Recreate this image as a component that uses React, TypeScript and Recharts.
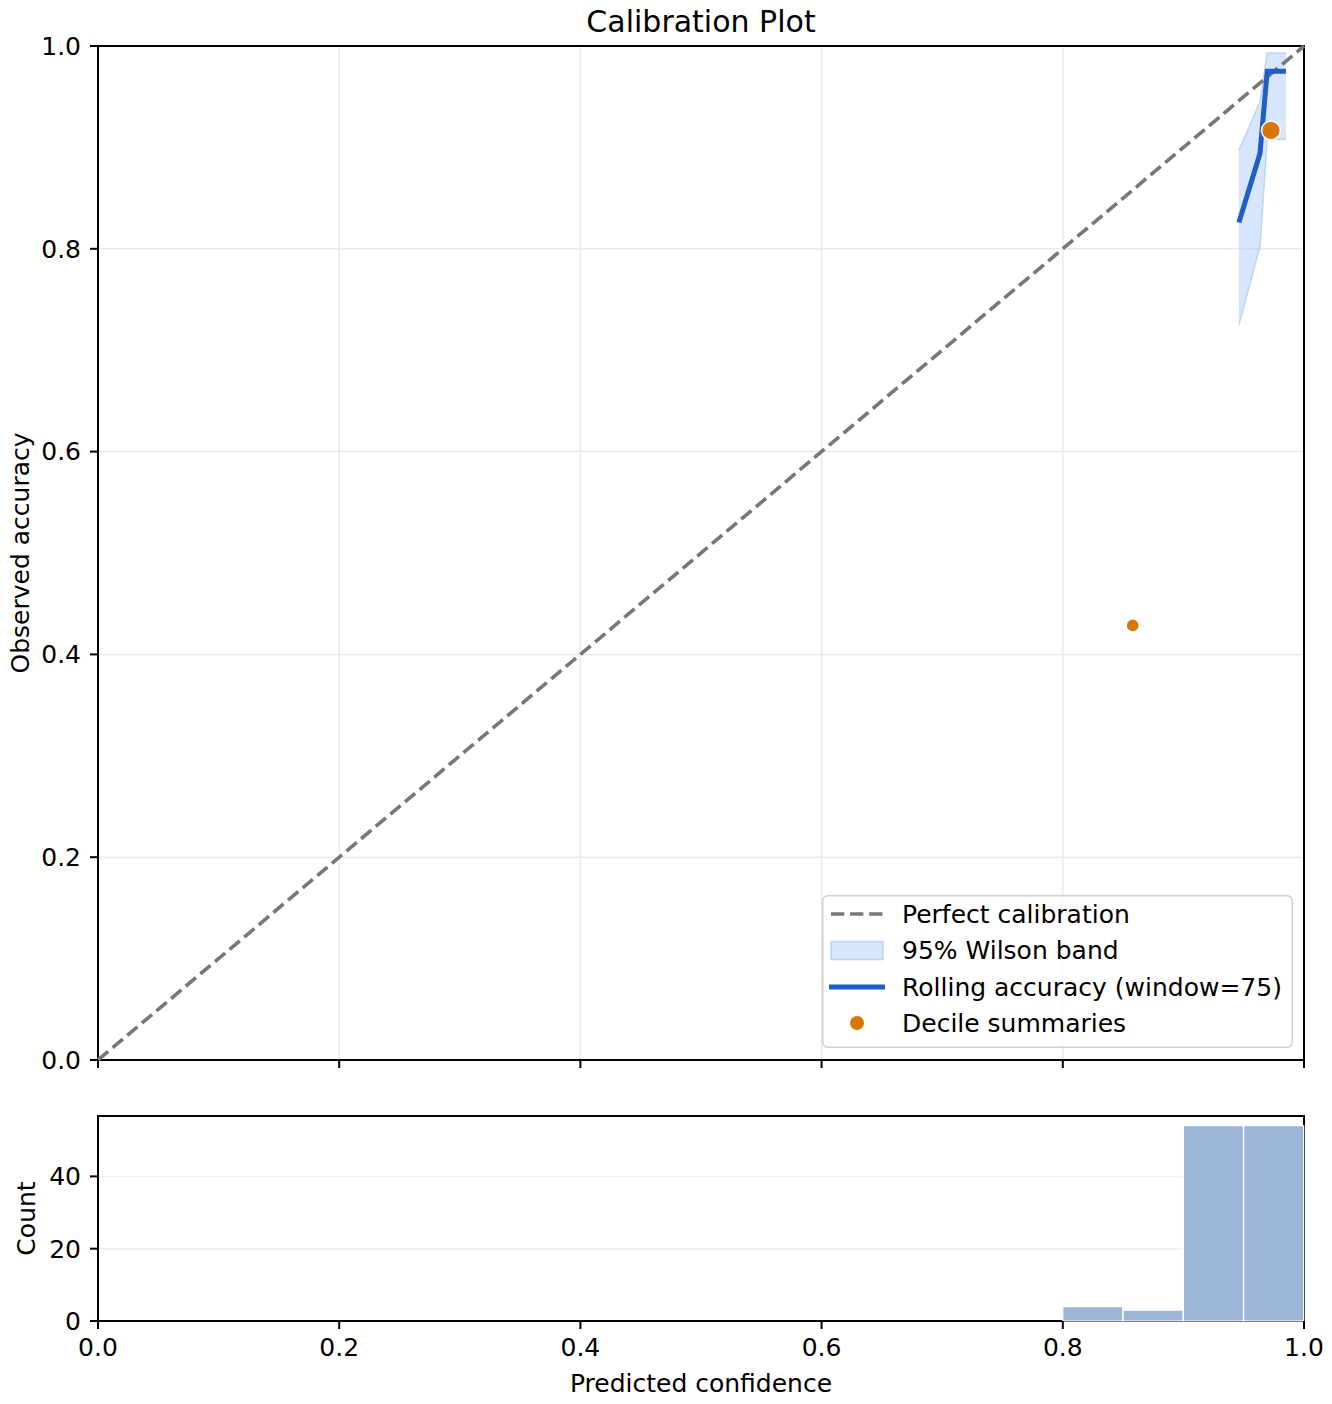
import React from 'react';
import {
  ComposedChart,
  Line,
  Area,
  Scatter,
  Bar,
  XAxis,
  YAxis,
  ZAxis,
  CartesianGrid,
  ReferenceArea,
  Legend,
} from 'recharts';

// ---------- data ----------
const perfectX = [0, 1];
const perfectY = [0, 1];

const rollX = [0.946, 0.9635, 0.9695, 0.985];
const rollAcc = [0.826, 0.894, 0.975, 0.975];
const bandLow = [0.725, 0.802, 0.908, 0.908];
const bandHigh = [0.897, 0.945, 0.993, 0.993];

const decileConf = [0.858, 0.9726];
const decileAcc = [0.4286, 0.9167];
const decileCount = [7, 108];

const binStarts = [0.8, 0.85, 0.9, 0.95];
const binCounts = [4, 3, 54, 54];
const BIN_WIDTH = 0.05;

const xTicks = [0, 0.2, 0.4, 0.6, 0.8, 1.0];
const yTicks = [0, 0.2, 0.4, 0.6, 0.8, 1.0];
const countTicks = [0, 20, 40];

const legendLabels = [
  'Perfect calibration',
  '95% Wilson band',
  'Rolling accuracy (window=75)',
  'Decile summaries',
];

// ---------- derived tables ----------
const perfectData = perfectX.map((x, i) => ({ x, y: perfectY[i] }));
const rollData = rollX.map((x, i) => ({ x, acc: rollAcc[i] }));
const bandData = rollX.map((x, i) => ({ x, band: [bandLow[i], bandHigh[i]] }));
const decileData = decileConf.map((x, i) => ({ x, acc: decileAcc[i], n: decileCount[i] }));
const histData = binStarts.map((s, i) => ({ x: s + BIN_WIDTH / 2, count: binCounts[i] }));
const countMax = Math.max(...binCounts) * 1.05;

// ---------- styles ----------
const FONT = 'DejaVu Sans';
const FS = 25;
const DIAG = '#777777';
const LINE = '#1f5ec4';
const BAND = '#a8c8fa';
const ORANGE = '#d97706';
const HIST = '#9db5d7';
const GRID = '#e9e9e9';

const tickStyle = { fontSize: FS, fill: '#000', fontFamily: FONT };
const tickLineStyle = { stroke: '#000', strokeWidth: 2 };

const legendRows = [19, 55.5, 92, 128];

const renderLegend = () => (
  <svg width={472} height={154} style={{ display: 'block', overflow: 'visible' }}>
    <rect
      x={0.75}
      y={0.75}
      width={469.5}
      height={151.5}
      rx={5}
      fill="#ffffff"
      fillOpacity={0.8}
      stroke="#d0d0d0"
      strokeWidth={1.5}
    />
    <line x1={9} x2={61} y1={legendRows[0]} y2={legendRows[0]} stroke={DIAG} strokeWidth={3.6} strokeDasharray="13.3 5.8" />
    <rect
      x={9}
      y={legendRows[1] - 9}
      width={52}
      height={18}
      fill={BAND}
      fillOpacity={0.45}
      stroke={BAND}
      strokeOpacity={0.7}
      strokeWidth={1.5}
    />
    <line x1={7} x2={63} y1={legendRows[2]} y2={legendRows[2]} stroke={LINE} strokeWidth={5} />
    <circle cx={35} cy={legendRows[3]} r={7} fill={ORANGE} />
    {legendLabels.map((l, i) => (
      <text key={l} x={80} y={legendRows[i] + 8.8} fontSize={FS} fontFamily={FONT} fill="#000">
        {l}
      </text>
    ))}
  </svg>
);

export default function App() {
  return (
    <div
      style={{
        position: 'absolute',
        left: 0,
        top: 0,
        width: 1332,
        height: 1404,
        background: '#fff',
        fontFamily: FONT,
      }}
    >
      <div
        style={{
          position: 'absolute',
          left: 98,
          top: 6.5,
          width: 1206,
          height: 30,
          lineHeight: '30px',
          fontSize: 30,
          textAlign: 'center',
          color: '#000',
        }}
      >
        Calibration Plot
      </div>

      <div style={{ position: 'absolute', left: 0, top: 0 }}>
        <ComposedChart width={1332} height={1080} margin={{ top: 46, right: 28, bottom: 0, left: 0 }}>
          <CartesianGrid stroke={GRID} strokeWidth={1.5} horizontal vertical />
          <XAxis
            dataKey="x"
            type="number"
            domain={[0, 1]}
            ticks={xTicks}
            height={20}
            axisLine={false}
            tickLine={tickLineStyle}
            tickSize={8}
            tick={tickStyle}
            tickFormatter={() => ''}
          />
          <YAxis
            type="number"
            domain={[0, 1]}
            ticks={yTicks}
            width={98}
            axisLine={false}
            tickLine={tickLineStyle}
            tickSize={8}
            tickMargin={9}
            tick={tickStyle}
            tickFormatter={(v: number) => v.toFixed(1)}
            label={{
              content: (p: any) => {
                const vb = p.viewBox;
                const cx = 29;
                const cy = vb.y + vb.height / 2;
                return (
                  <text
                    x={cx}
                    y={cy}
                    textAnchor="middle"
                    transform={`rotate(-90, ${cx}, ${cy})`}
                    fontSize={FS}
                    fontFamily={FONT}
                    fill="#000"
                  >
                    Observed accuracy
                  </text>
                );
              },
            }}
          />
          <ZAxis
            dataKey="n"
            type="number"
            domain={[Math.min(...decileCount), Math.max(...decileCount)]}
            range={[137, 278]}
          />
          <Line
            data={perfectData}
            dataKey="y"
            stroke={DIAG}
            strokeWidth={3.6}
            strokeDasharray="13.3 5.8"
            dot={false}
            activeDot={false}
            isAnimationActive={false}
            legendType="none"
          />
          <Area
            data={bandData}
            dataKey="band"
            type="linear"
            fill={BAND}
            fillOpacity={0.45}
            stroke={BAND}
            strokeOpacity={0.7}
            strokeWidth={1.5}
            isAnimationActive={false}
            dot={false}
            activeDot={false}
          />
          <Line
            data={rollData}
            dataKey="acc"
            type="linear"
            stroke={LINE}
            strokeWidth={5}
            dot={false}
            activeDot={false}
            isAnimationActive={false}
          />
          <Scatter
            data={decileData}
            dataKey="acc"
            fill={ORANGE}
            stroke="#ffffff"
            strokeWidth={1.5}
            shape="circle"
            isAnimationActive={false}
          />
          <ReferenceArea x1={0} x2={1} y1={0} y2={1} fill="none" stroke="#000" strokeWidth={2} ifOverflow="visible" />
          <Legend
            layout="vertical"
            align="center"
            verticalAlign="middle"
            content={renderLegend}
            wrapperStyle={{ position: 'absolute', left: 822, top: 895, width: 472, height: 154 }}
          />
        </ComposedChart>
      </div>

      <div style={{ position: 'absolute', left: 0, top: 1080 }}>
        <ComposedChart
          width={1332}
          height={324}
          data={histData}
          margin={{ top: 36, right: 28, bottom: 0, left: 0 }}
          barCategoryGap={0}
          barGap={0}
        >
          <CartesianGrid stroke="#f0f0f0" strokeWidth={1.5} horizontal vertical={false} />
          <XAxis
            dataKey="x"
            type="number"
            domain={[0, 1]}
            ticks={xTicks}
            height={83}
            axisLine={false}
            tickLine={tickLineStyle}
            tickSize={8}
            tickMargin={9}
            tick={tickStyle}
            tickFormatter={(v: number) => v.toFixed(1)}
            label={{
              content: (p: any) => {
                const vb = p.viewBox;
                return (
                  <text
                    x={vb.x + vb.width / 2}
                    y={vb.y + 70.5}
                    textAnchor="middle"
                    fontSize={FS}
                    fontFamily={FONT}
                    fill="#000"
                  >
                    Predicted confidence
                  </text>
                );
              },
            }}
          />
          <YAxis
            type="number"
            domain={[0, countMax]}
            ticks={countTicks}
            width={98}
            axisLine={false}
            tickLine={tickLineStyle}
            tickSize={8}
            tickMargin={9}
            tick={tickStyle}
            label={{
              content: (p: any) => {
                const vb = p.viewBox;
                const cx = 35;
                const cy = vb.y + vb.height / 2;
                return (
                  <text
                    x={cx}
                    y={cy}
                    textAnchor="middle"
                    transform={`rotate(-90, ${cx}, ${cy})`}
                    fontSize={FS}
                    fontFamily={FONT}
                    fill="#000"
                  >
                    Count
                  </text>
                );
              },
            }}
          />
          <Bar
            dataKey="count"
            fill={HIST}
            stroke="#ffffff"
            strokeWidth={1.2}
            isAnimationActive={false}
          />
          <ReferenceArea x1={0} x2={1} y1={0} y2={countMax} fill="none" stroke="#000" strokeWidth={2} ifOverflow="visible" />
        </ComposedChart>
      </div>
    </div>
  );
}
